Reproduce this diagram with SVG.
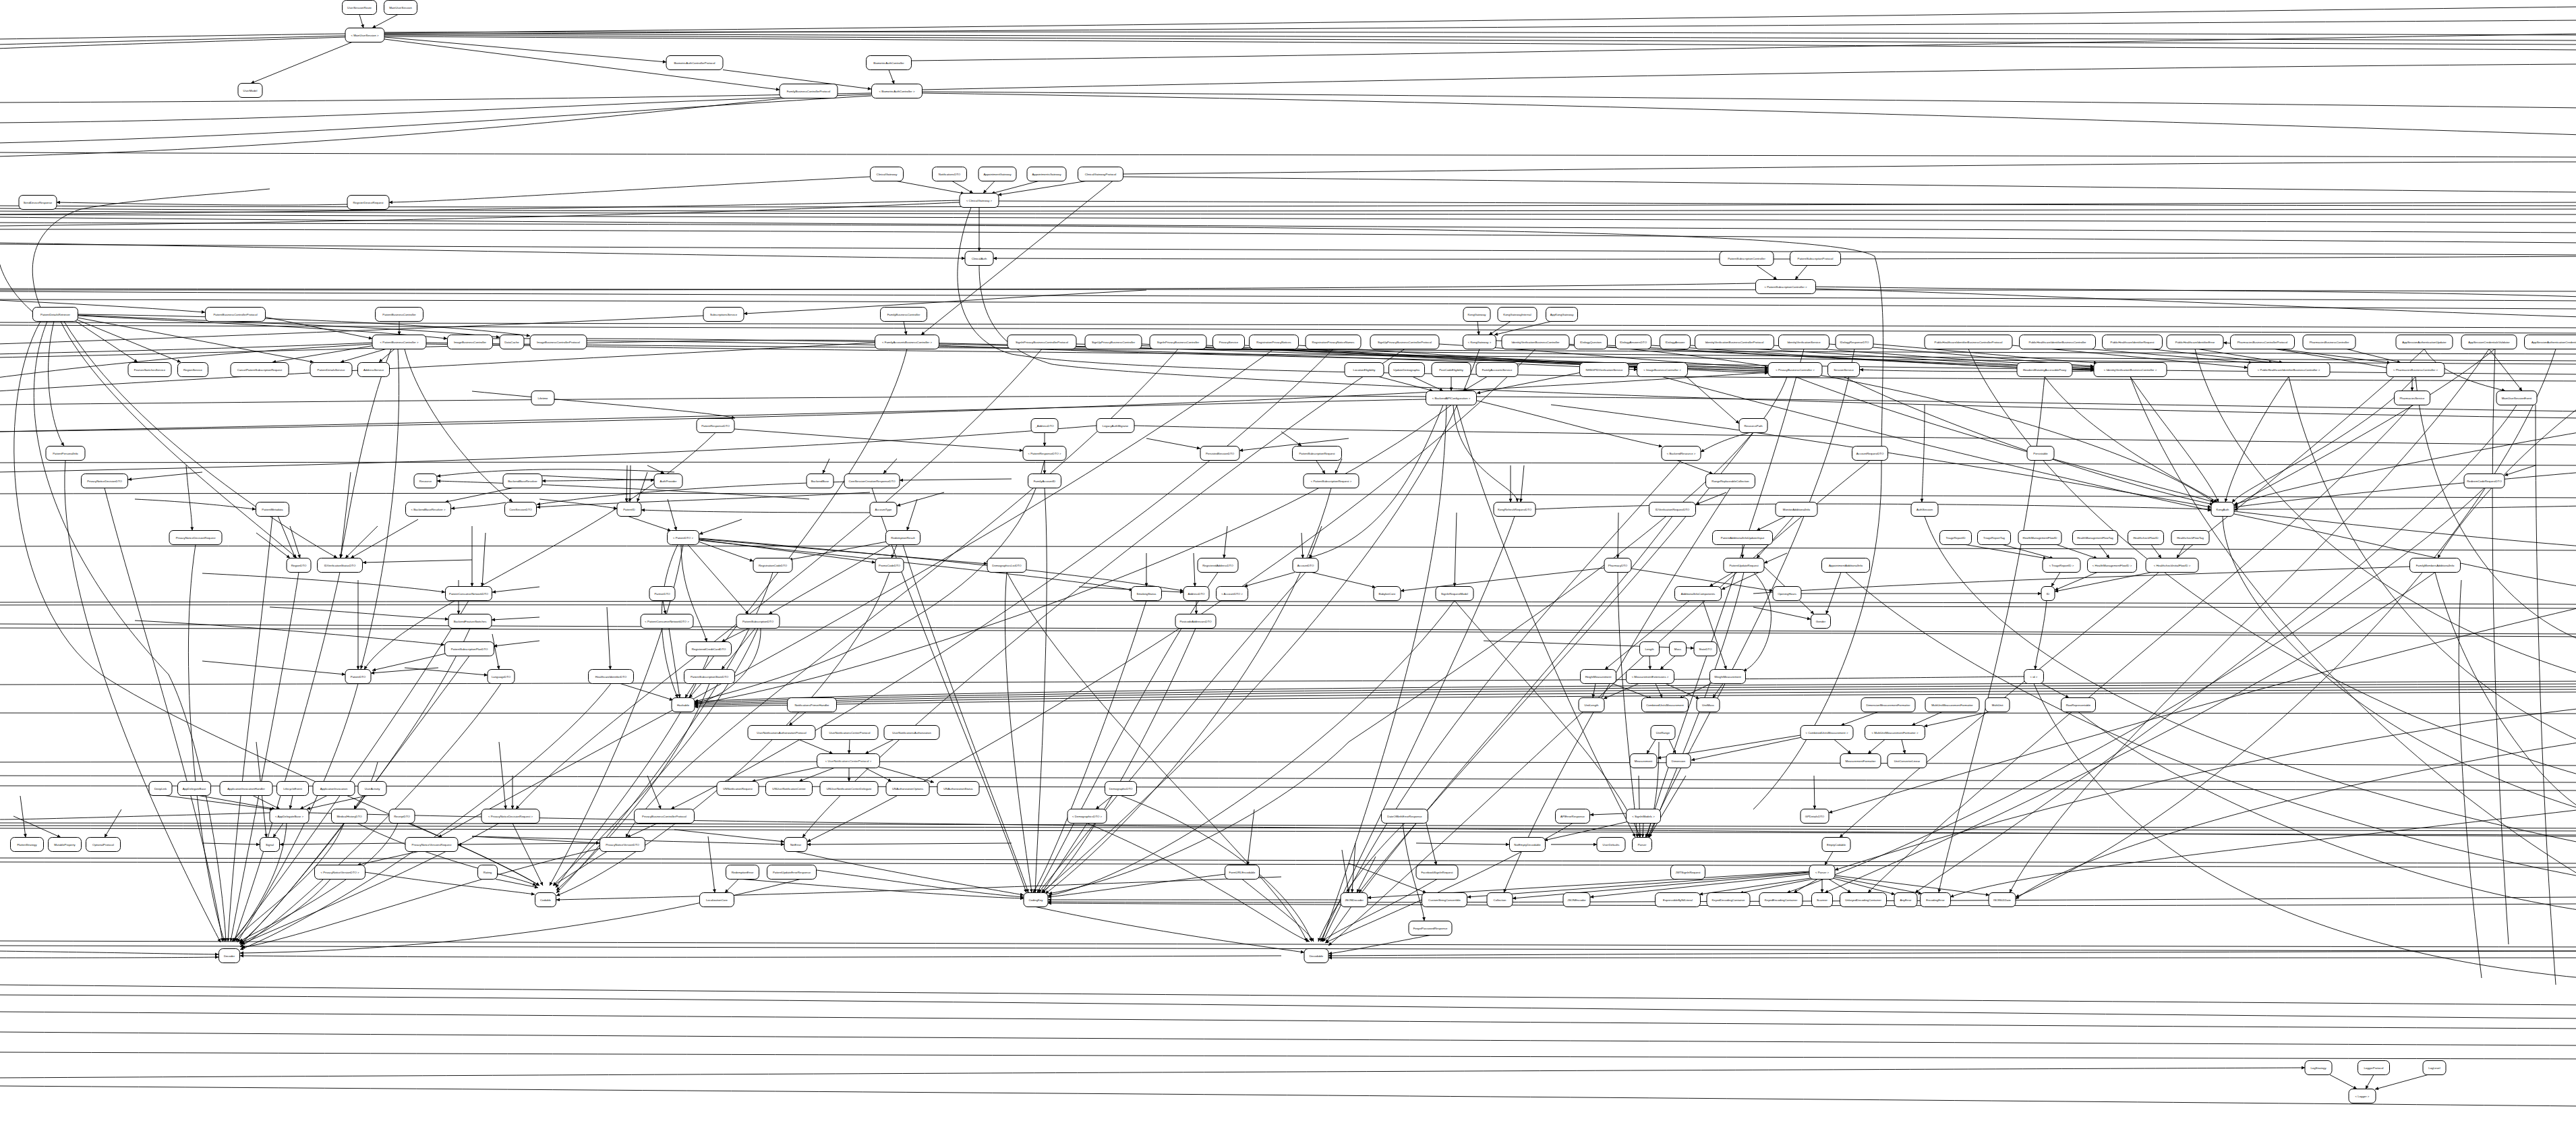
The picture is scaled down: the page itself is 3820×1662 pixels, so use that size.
<svg xmlns="http://www.w3.org/2000/svg" width="3820" height="1662" viewBox="0 0 3820 1662">
<style>
.n rect{fill:#fff;stroke:#000;stroke-width:1}
.n text{font-family:"Liberation Sans",Arial,sans-serif;font-size:4.3px;text-anchor:middle;dominant-baseline:central;fill:#000}
.e path{fill:none;stroke:#000;stroke-width:0.9;marker-end:url(#a)}
.e path.b{marker-end:none}
</style>
<defs><marker id="a" viewBox="0 0 10 10" refX="10" refY="5" markerWidth="7" markerHeight="5" markerUnits="userSpaceOnUse" orient="auto"><path d="M0,0L10,5L0,10z"/></marker></defs>
<rect width="3820" height="1662" fill="#fff"/>
<g id="connectors" class="e">
<path d="M533,21.5L539,41.5"/>
<path d="M590,21.5L552,41.5"/>
<path d="M570,55L988,92"/>
<path d="M570,58L1156,133"/>
<path d="M522,62.5L372,123.5"/>
<path d="M1072,103.5L1292,132"/>
<path d="M1318,103.5L1326,124.5"/>
<path class="b" d="M512,50C350,52 150,56 -5,58"/>
<path class="b" d="M512,53C350,57 150,62 -5,66"/>
<path class="b" d="M512,55C300,62 100,68 -5,72"/>
<path class="b" d="M570,48C1200,46 2600,48 3830,52"/>
<path class="b" d="M570,50C1300,52 2600,56 3830,60"/>
<path class="b" d="M570,52C1400,56 2700,62 3830,66"/>
<path class="b" d="M570,54C1500,60 2800,68 3830,74"/>
<path class="b" d="M570,49C1500,40 3000,20 3830,10"/>
<path class="b" d="M570,51C1600,45 3000,35 3830,30"/>
<path class="b" d="M1351,90C2200,80 3200,60 3830,50"/>
<path class="b" d="M1292,138C900,146 500,150 -5,152"/>
<path class="b" d="M1292,140C900,152 500,178 -5,182"/>
<path class="b" d="M1292,142C900,165 500,200 -5,212"/>
<path class="b" d="M1242,138C1000,160 600,215 -5,232"/>
<path class="b" d="M1367,133C2000,120 3000,100 3830,95"/>
<path class="b" d="M1367,136C2000,140 3000,150 3830,160"/>
<path class="b" d="M1367,138C2200,150 3200,180 3830,200"/>
<path class="b" d="M-5,226C900,230 2500,229 3830,233"/>
<path class="b" d="M1665,258C2500,250 3300,240 3830,240"/>
<path class="b" d="M1665,262C2500,270 3300,280 3830,285"/>
<path class="b" d="M1481,298C2200,300 3200,305 3830,305"/>
<path d="M1330,268.5L1430,287"/>
<path d="M1412,268.5L1443,286.5"/>
<path d="M1475,268.5L1458,286.5"/>
<path d="M1540,268.5L1470,287"/>
<path d="M1610,268.5L1480,289"/>
<path d="M1290,262C900,282 700,297 577,300"/>
<path d="M515,303C400,306 200,302 84,300"/>
<path class="b" d="M-5,305C1000,310 2500,304 3830,300"/>
<path class="b" d="M-5,309C1000,316 2500,312 3830,310"/>
<path class="b" d="M-5,313C1200,318 2600,318 3830,318"/>
<path class="b" d="M-5,318C1200,322 2600,326 3830,330"/>
<path class="b" d="M-5,322C1000,332 2500,338 3830,345"/>
<path class="b" d="M-5,340C1000,340 2600,350 3830,360"/>
<path class="b" d="M-5,362C1000,368 2600,372 3830,378"/>
<path d="M1452,307.5L1452,372.5"/>
<path class="b" d="M1423,297C1300,300 900,310 -5,318"/>
<path class="b" d="M1423,300C1300,305 900,325 -5,335"/>
<path d="M-5,360C600,370 1100,380 1431,383"/>
<path d="M3830,380C3000,385 2000,385 1473,383"/>
<path class="b" d="M1452,393.5C1452,480 1490,520 1560,540C1700,560 2500,600 3830,620"/>
<path class="b" d="M1440,307.5C1405,400 1410,500 1500,525C1700,560 2600,560 3830,565"/>
<path d="M1650,268.5L1366,496.5"/>
<path class="b" d="M48,462C0,420 -5,380 -5,360"/>
<path class="b" d="M60,456C30,380 60,330 120,310C200,295 300,290 400,280"/>
<path class="b" d="M-5,428C1000,430 2600,428 3830,432"/>
<path class="b" d="M-5,432C1000,438 2600,440 3830,446"/>
<path class="b" d="M-5,444C1200,446 2600,452 3830,458"/>
<path class="b" d="M-5,478C1000,480 2600,482 3830,486"/>
<path class="b" d="M-5,482C1000,486 2600,490 3830,494"/>
<path d="M592,476.5L592,496.5"/>
<path d="M393,470L552,502"/>
<path d="M-5,445C100,450 200,455 304,463"/>
<path d="M112,476L204,537"/>
<path d="M114,474L268,537"/>
<path d="M115,471L465,537"/>
<path d="M116,468C350,480 550,490 663,502"/>
<path d="M116,467C350,478 600,485 741,500"/>
<path d="M116,466C400,470 650,480 786,498"/>
<path d="M556,512L404,537"/>
<path d="M572,517.5L505,537"/>
<path d="M585,517.5L562,537"/>
<path class="b" d="M632,508C1000,515 2000,520 3830,525"/>
<path class="b" d="M632,510C1200,520 2200,530 3830,540"/>
<path class="b" d="M552,508C400,515 200,520 -5,525"/>
<path class="b" d="M552,510C300,525 150,540 -5,560"/>
<path d="M600,517.5C620,600 700,700 760,744"/>
<path d="M580,517.5C540,620 520,750 505,827"/>
<path d="M590,517.5C600,700 560,900 535,992"/>
<path d="M70,476.5C20,600 60,800 250,1000C300,1100 330,1300 335,1396"/>
<path d="M80,476.5C60,560 80,640 95,661"/>
<path d="M90,476.5C150,600 350,750 440,827"/>
<path d="M95,476.5C200,650 450,800 500,827"/>
<path d="M60,476.5C-10,600 10,900 150,1000C300,1100 700,1250 800,1313"/>
<path d="M1700,430C1500,440 1300,455 1103,465"/>
<path class="b" d="M1043,468C800,480 300,500 -5,510"/>
<path d="M1340,476.5L1344,496.5"/>
<path class="b" d="M1297,505C1000,500 500,520 -5,530"/>
<path class="b" d="M1297,508C900,530 300,560 -5,580"/>
<path class="b" d="M1392,510C1800,520 2600,530 3830,535"/>
<path class="b" d="M1392,512C1800,530 2600,545 3830,555"/>
<path d="M1596,510C2000,520 2400,540 2622,546"/>
<path d="M1693,510C2000,525 2400,540 2622,548"/>
<path d="M1789,512C2100,530 2400,545 2622,550"/>
<path d="M1846,512C2200,535 2500,545 2622,551"/>
<path d="M1926,512C2200,530 2500,550 2622,553"/>
<path d="M2134,510C2300,520 2500,540 2622,545"/>
<path d="M2327,512C2600,525 2900,540 3105,546"/>
<path d="M2630,512C2800,525 3000,540 3105,544"/>
<path d="M2712,510C2850,520 3000,535 3105,543"/>
<path d="M2384,512C2700,530 2950,545 3105,548"/>
<path d="M2449,512C2720,530 2950,545 3105,549"/>
<path d="M2507,512C2750,525 2950,540 3105,547"/>
<path d="M2778,510C2900,520 3050,535 3110,538"/>
<path d="M2191,476.5L2193,496.5"/>
<path d="M2240,476.5L2208,496.5"/>
<path d="M2300,476.5L2216,496.5"/>
<path d="M2045,558.5L2125,579.5"/>
<path d="M2095,558.5L2140,579.5"/>
<path d="M2152,558.5L2152,579.5"/>
<path d="M2205,558.5L2170,579.5"/>
<path d="M2345,552L2190,583"/>
<path d="M731,502C1200,500 2000,520 2428,545"/>
<path d="M870,505C1400,510 2100,530 2428,548"/>
<path d="M2984,512L3333,545"/>
<path d="M3100,517.5L3340,538"/>
<path d="M3190,517.5L3370,537.5"/>
<path d="M3260,517.5L3385,537.5"/>
<path d="M3380,517.5L3545,538"/>
<path d="M3480,517.5L3560,537.5"/>
<path d="M3577,558.5L3577,579.5"/>
<path d="M3595,517.5C3620,560 3700,575 3715,579.5"/>
<path d="M3691,517.5L3740,579.5"/>
<path d="M3539,545C3450,530 3350,512 3297,508"/>
<path d="M3105,550C2950,552 2800,550 2758,548"/>
<path class="b" d="M2622,552C2200,580 1500,620 -5,640"/>
<path d="M2650,558.5C2600,700 2300,900 2000,1100C1900,1200 1700,1300 1555,1325"/>
<path d="M2605,393.5L2635,414.5"/>
<path d="M2680,393.5L2662,414.5"/>
<path class="b" d="M2603,420C2000,430 1000,430 -5,430"/>
<path class="b" d="M2692,425C3000,430 3500,430 3830,440"/>
<path class="b" d="M2692,428C3100,440 3500,460 3830,470"/>
<path class="b" d="M-5,330C1500,335 2700,330 2780,380C2800,450 2790,550 2790,700C2790,900 2700,1100 2600,1200"/>
<path class="b" d="M2114,588C1700,585 1000,590 -5,600"/>
<path class="b" d="M2114,592C1700,600 1000,620 -5,640"/>
<path class="b" d="M2190,588C2600,590 3200,600 3830,610"/>
<path d="M2140,600.5C2100,700 2050,800 1940,827"/>
<path d="M2155,600.5C2160,700 2250,720 2250,744"/>
<path d="M2190,594C2300,620 2400,650 2465,662"/>
<path d="M2145,600.5C2140,800 2100,1000 1960,1396"/>
<path d="M2160,600.5C2200,750 2300,1000 2425,1241"/>
<path d="M2600,640C2560,650 2540,660 2522,670"/>
<path d="M2500,558L2579,628"/>
<path d="M1700,650L1780,665"/>
<path d="M2000,650L1838,668"/>
<path d="M1900,640L1930,661"/>
<path d="M1549,641.5L1549,661.5"/>
<path d="M1089,636L1517,668"/>
<path d="M700,580C900,600 1050,610 1090,620"/>
<path class="b" d="M1626,631C1400,650 1000,680 -5,700"/>
<path class="b" d="M1682,631C2000,640 3000,650 3830,660"/>
<path class="b" d="M-5,686C1200,684 2600,686 3830,690"/>
<path class="b" d="M-5,732C1200,730 2600,734 3830,738"/>
<path class="b" d="M-5,810C1200,808 2600,812 3830,816"/>
<path d="M1000,700C800,690 700,700 648,706"/>
<path d="M1200,740C900,720 700,715 648,713"/>
<path d="M1000,710C900,712 850,713 804,713"/>
<path d="M760,723.5L660,744.5"/>
<path d="M750,745C720,750 690,752 669,754"/>
<path d="M1290,730C1100,740 900,745 796,752"/>
<path d="M1300,713C1000,720 850,740 796,748"/>
<path d="M200,740C300,745 350,752 379,755"/>
<path d="M800,705C900,710 950,712 970,712"/>
<path d="M960,690L985,702"/>
<path d="M1230,680L1220,702"/>
<path d="M1500,710L1334,712"/>
<path d="M1330,680L1310,702"/>
<path d="M1549,680L1549,702.5"/>
<path d="M930,690L929,744"/>
<path d="M935,690L934,744"/>
<path d="M800,740C850,745 890,750 915,754"/>
<path d="M960,700L945,744"/>
<path d="M1300,760C1100,760 1000,758 951,756"/>
<path d="M1400,730L1330,750"/>
<path d="M930,765L995,787"/>
<path d="M990,740L1003,786.5"/>
<path d="M1100,770L1037,792"/>
<path d="M1360,740L1345,786.5"/>
<path d="M1036,803L1117,832"/>
<path d="M1037,800L1298,834"/>
<path d="M1037,799L1464,836"/>
<path d="M1020,807.5L1110,910.5"/>
<path d="M1010,807.5C1010,880 1040,920 1048,951.5"/>
<path d="M1005,807.5C960,900 990,1000 1005,1034.5"/>
<path d="M1037,798C1300,820 1600,850 1755,876"/>
<path d="M1037,801C1300,830 1600,860 1680,875"/>
<path d="M1330,807.5L1322,827.5"/>
<path d="M1320,807.5L1140,910.5"/>
<path d="M1315,803L1170,830"/>
<path d="M983,890.5L987,910.5"/>
<path d="M1110,931.5L1070,951.5"/>
<path d="M1120,931.5L1070,992.5"/>
<path d="M1128,931.5C1130,1000 1060,1040 1030,1042"/>
<path d="M992,931.5L1008,1034.5"/>
<path d="M1040,1013.5L1022,1034.5"/>
<path d="M920,1013.5L998,1038"/>
<path d="M1774,890.5L1774,910.5"/>
<path d="M1920,848.5L1845,869.5"/>
<path d="M3830,1010C2500,1015 1500,1020 1030,1040"/>
<path d="M3830,1014C2500,1018 1500,1024 1030,1042"/>
<path d="M3830,1018C2500,1022 1600,1026 1030,1044"/>
<path d="M3830,1022C2600,1026 1600,1030 1030,1046"/>
<path d="M3830,1026C2600,1030 1700,1034 1030,1048"/>
<path d="M410,760L438,827.5"/>
<path d="M430,780L445,827.5"/>
<path d="M380,790L430,827.5"/>
<path d="M520,700L505,827.5"/>
<path d="M560,780L512,827.5"/>
<path d="M620,770L520,827.5"/>
<path d="M700,830L538,834"/>
<path d="M800,870L730,878"/>
<path d="M300,850C500,860 600,870 660,878"/>
<path d="M700,780L700,869.5"/>
<path d="M720,790L715,869.5"/>
<path d="M680,860L680,910.5"/>
<path d="M800,915L729,919"/>
<path d="M400,900C500,905 600,915 665,918"/>
<path d="M200,920C400,930 600,950 659,956"/>
<path d="M800,950L732,958"/>
<path d="M531,860L531,992.5"/>
<path d="M650,990L550,998"/>
<path d="M700,960L552,994"/>
<path d="M300,980L512,1000"/>
<path d="M600,990L723,1001"/>
<path d="M730,940L740,992.5"/>
<path d="M900,900L905,992.5"/>
<path d="M300,700L190,711"/>
<path d="M276,690C280,740 284,760 285,786.5"/>
<path class="b" d="M-5,893C1200,890 2600,892 3830,896"/>
<path class="b" d="M-5,897C1200,896 2600,898 3830,902"/>
<path class="b" d="M-5,925C1200,930 2500,935 3830,940"/>
<path class="b" d="M-5,931C1200,934 2500,937 3830,944"/>
<path class="b" d="M-5,1057C1200,1058 2500,1056 3830,1058"/>
<path d="M2648,765.5L2605,786.5"/>
<path d="M2660,765.5L2605,827.5"/>
<path d="M2584,807.5L2584,827.5"/>
<path d="M2240,690L2240,744.5"/>
<path d="M2260,690L2255,744.5"/>
<path d="M2560,730L2515,748"/>
<path d="M2400,760L2399,827.5"/>
<path d="M2650,820L2616,835"/>
<path d="M1950,680L1965,702.5"/>
<path d="M1990,680L1980,702.5"/>
<path d="M2480,680L2540,702.5"/>
<path d="M1930,790L1932,827.5"/>
<path d="M1960,780L1942,827.5"/>
<path d="M1820,780L1815,827.5"/>
<path d="M1600,870L1755,878"/>
<path d="M1770,820L1772,869.5"/>
<path d="M1700,820L1700,869.5"/>
<path d="M1945,848.5L2040,871"/>
<path d="M2379,842L2077,876"/>
<path d="M2160,760L2157,869.5"/>
<path d="M2419,843L2629,876"/>
<path d="M2600,900L2685,918"/>
<path d="M2616,840L2690,910.5"/>
<path d="M2730,848.5L2708,910.5"/>
<path d="M2200,950L2512,961"/>
<path d="M2505,890.5L2380,992.5"/>
<path d="M2525,890.5L2560,992.5"/>
<path d="M2616,845L2553,874"/>
<path d="M2570,848.5L2535,869.5"/>
<path d="M2600,848C2650,900 2620,980 2585,995"/>
<path d="M2446,972.5L2447,992.5"/>
<path d="M2484,972.5L2462,992.5"/>
<path d="M2366,1013.5L2362,1034.5"/>
<path d="M2430,1013.5L2378,1036"/>
<path d="M2455,1013.5L2465,1034.5"/>
<path d="M2470,1013.5L2520,1036"/>
<path d="M2555,1013.5L2540,1034.5"/>
<path d="M2540,1012L2490,1036"/>
<path d="M2390,1013L2450,1036"/>
<path d="M2915,807.5L3035,828"/>
<path d="M2970,807.5L3045,828"/>
<path d="M3050,807.5L3110,828"/>
<path d="M3113,807.5L3128,827.5"/>
<path d="M3190,807.5L3205,827.5"/>
<path d="M3240,807.5L3228,827.5"/>
<path d="M3055,848.5L3042,869.5"/>
<path d="M3110,848.5L3047,875"/>
<path d="M3190,848.5L3047,877"/>
<path d="M3035,890.5C3030,940 3020,970 3018,992.5"/>
<path d="M3028,1013.5L3068,1034.5"/>
<path d="M2671,880L3027,880"/>
<path class="b" d="M3001,1003C2800,1005 2500,1010 -5,1015"/>
<path d="M2219,505C2700,520 3150,650 3283,744.5"/>
<path d="M2300,600C2700,650 3100,720 3279,752"/>
<path d="M2277,755C2600,740 3100,750 3279,755"/>
<path d="M3159,558.5C3200,620 3270,700 3290,744.5"/>
<path d="M3394,558.5C3350,620 3310,700 3300,744.5"/>
<path d="M3582,558.5C3500,650 3330,720 3310,745"/>
<path d="M2662,558.5C2900,650 3200,720 3285,745"/>
<path d="M2734,558.5C2900,640 3150,720 3282,748"/>
<path d="M3830,700C3600,720 3400,740 3313,752"/>
<path d="M3830,750C3600,755 3400,755 3313,755"/>
<path d="M3830,640C3600,680 3400,720 3313,748"/>
<path d="M2465,558.5C2800,650 3150,730 3279,757"/>
<path d="M3032,558.5C3100,650 3250,720 3288,744.5"/>
<path d="M3700,517C3600,600 3400,700 3313,750"/>
<path d="M2854,600C2854,680 2850,730 2850,744.5"/>
<path d="M3760,690L3714,705"/>
<path class="b" d="M3573,840C3300,850 2900,860 2600,880"/>
<path class="b" d="M3313,758C3500,780 3700,800 3830,810"/>
<path class="b" d="M3313,762C3500,800 3700,850 3830,870"/>
<path class="b" d="M3159,558.5C3250,800 3500,1100 3830,1300"/>
<path class="b" d="M3394,558.5C3450,800 3600,1000 3830,1100"/>
<path class="b" d="M3582,558.5C3600,750 3700,900 3830,950"/>
<path d="M3032,558.5C3000,900 2900,1200 2875,1323.5"/>
<path class="b" d="M2919,517.5C3000,700 3300,1000 3830,1150"/>
<path class="b" d="M3255,517.5C3300,700 3500,900 3830,1000"/>
<path d="M3595,517.5C3400,700 3000,1000 2728,1241.5"/>
<path d="M3691,517.5C3500,800 3100,1100 2980,1323.5"/>
<path d="M3790,517.5C3700,800 3300,1200 2989,1330"/>
<path d="M3732,600.5C3600,800 3100,1150 2840,1323.5"/>
<path d="M3577,600.5C3400,800 3000,1100 2770,1323.5"/>
<path d="M3611,848.5C3400,1000 3000,1200 2706,1323.5"/>
<path d="M3684,723.5C3500,900 3000,1200 2650,1323.5"/>
<path d="M3830,900C3400,1000 2900,1150 2712,1205"/>
<path d="M3830,1050C3400,1100 3000,1200 2721,1290"/>
<path d="M3830,1100C3500,1150 3100,1250 2989,1333"/>
<path d="M3830,1200C3400,1250 3000,1290 2892,1330"/>
<path class="b" d="M2854,765.5C2900,900 3100,1100 3830,1250"/>
<path class="b" d="M3296,765.5C3300,900 3500,1100 3830,1200"/>
<path class="b" d="M3082,1055.5C3200,1150 3500,1300 3830,1350"/>
<path class="b" d="M3016,1013.5C3100,1200 3300,1400 3830,1450"/>
<path class="b" d="M2737,848.5C2900,1000 3300,1200 3830,1300"/>
<path class="b" d="M3611,848.5C3650,1000 3750,1150 3830,1200"/>
<path d="M3830,600C3700,700 3630,800 3615,827.5"/>
<path class="b" d="M3700,517.5C3690,800 3700,1100 3720,1400"/>
<path class="b" d="M3760,600C3760,900 3770,1200 3790,1460"/>
<path class="b" d="M3650,860C3640,1000 3650,1200 3680,1450"/>
<path d="M1345,517.5C1300,700 1100,900 1016,1034.5"/>
<path d="M1549,682.5C1500,900 1200,1000 1030,1040"/>
<path d="M1061,641.5C900,800 600,900 540,992.5"/>
<path d="M2152,600.5C1900,800 1300,1000 1030,1044"/>
<path d="M2083,517.5C1800,700 1300,1100 1190,1241.5"/>
<path d="M2277,517.5C2000,800 1500,1100 1197,1248"/>
<path d="M1747,517.5C1500,800 1000,1100 928,1241.5"/>
<path d="M1545,517.5C1300,800 900,1050 765,1199.5"/>
<path d="M1889,517.5C1500,800 900,1100 650,1241.5"/>
<path d="M1977,517.5C1700,800 1200,1100 995,1199.5"/>
<path d="M2194,517.5C2100,800 1800,1100 1545,1323.5"/>
<path d="M2493,682.5C2300,900 2100,1100 1962,1396"/>
<path d="M2246,765.5C2200,900 2050,1200 1958,1396"/>
<path d="M2480,765.5C2300,1000 2100,1200 1966,1398"/>
<path d="M2773,682.5C2500,900 2200,1200 1970,1402"/>
<path d="M2600,641.5C2400,900 2150,1150 2015,1323.5"/>
<path d="M2566,723.5C2450,900 2300,1150 2230,1323.5"/>
<path d="M2750,517.5C2700,800 2500,1100 2444,1241.5"/>
<path d="M2675,517.5C2600,800 2480,1100 2442,1241.5"/>
<path d="M2586,848.5C2550,1000 2480,1150 2446,1241.5"/>
<path d="M2399,848.5C2400,1000 2420,1150 2428,1241.5"/>
<path d="M2157,890.5C2250,1000 2400,1150 2432,1241.5"/>
<path d="M2785,1055.5L2730,1075.5"/>
<path d="M2880,1055.5L2835,1075.5"/>
<path d="M2950,1055.5L2853,1077"/>
<path d="M2455,1096.5L2442,1117.5"/>
<path d="M2475,1096.5L2485,1117.5"/>
<path d="M2720,1096.5L2745,1117.5"/>
<path d="M2795,1096.5L2770,1117.5"/>
<path d="M2820,1096.5L2825,1117.5"/>
<path d="M2670,1090L2458,1124"/>
<path d="M2672,1093L2508,1127"/>
<path d="M245,1179.5L405,1200"/>
<path d="M295,1179.5L408,1199.5"/>
<path d="M375,1179.5L415,1199.5"/>
<path d="M434,1179.5L430,1199.5"/>
<path d="M485,1179.5L445,1199.5"/>
<path d="M545,1179.5L455,1199.5"/>
<path d="M420,1220.5L405,1241.5"/>
<path d="M425,1220.5C420,1300 360,1380 345,1396"/>
<path class="b" d="M458,1205C1000,1220 2000,1230 3830,1240"/>
<path class="b" d="M400,1205C200,1210 50,1215 -5,1215"/>
<path d="M510,1220.5C480,1300 360,1370 350,1396"/>
<path d="M590,1220.5C560,1300 380,1380 355,1396"/>
<path d="M605,1220.5C700,1260 780,1300 800,1313"/>
<path d="M530,1220.5C650,1280 770,1300 795,1313"/>
<path d="M760,1220.5L805,1313"/>
<path d="M740,1220.5C600,1300 400,1380 358,1400"/>
<path d="M975,1220.5L930,1241.5"/>
<path d="M620,1262.5L530,1282.5"/>
<path d="M541,1293C650,1310 750,1320 793,1326"/>
<path d="M490,1303.5C450,1350 380,1390 355,1398"/>
<path d="M900,1262.5L820,1313"/>
<path d="M890,1258C700,1300 450,1390 358,1405"/>
<path d="M735,1303.5L798,1316"/>
<path d="M300,1250L385,1252"/>
<path d="M600,1250L415,1252"/>
<path d="M380,1100L395,1241.5"/>
<path d="M900,1250L679,1252"/>
<path d="M700,1240L889,1250"/>
<path d="M30,1180L38,1241.5"/>
<path d="M20,1210L90,1241.5"/>
<path d="M180,1200L155,1241.5"/>
<path d="M740,1100L750,1199.5"/>
<path d="M760,1150L760,1199.5"/>
<path d="M960,1150L980,1199.5"/>
<path d="M560,1130C550,1170 530,1190 525,1199.5"/>
<path d="M155,723.5C200,900 300,1200 330,1396"/>
<path d="M97,682.5C80,900 250,1250 327,1397"/>
<path d="M404,765.5C380,1000 350,1200 338,1396"/>
<path d="M290,807.5C260,1000 300,1300 333,1396"/>
<path d="M443,848.5C420,1000 360,1300 342,1396"/>
<path d="M504,848.5C460,1050 380,1300 347,1396"/>
<path d="M531,1013.5C480,1200 380,1350 352,1397"/>
<path d="M696,972.5C600,1100 420,1350 355,1399"/>
<path d="M697,931.5C620,1100 420,1340 356,1401"/>
<path d="M743,1013.5C650,1150 430,1360 356,1404"/>
<path d="M906,1013.5C800,1150 500,1350 356,1408"/>
<path d="M695,890.5C600,1050 400,1330 344,1396"/>
<path d="M-5,1410C150,1412 250,1414 324,1415"/>
<path d="M-5,1420C150,1420 250,1420 324,1419"/>
<path d="M1200,1300C900,1380 600,1410 356,1413"/>
<path d="M1900,1417C1200,1420 700,1420 356,1417"/>
<path d="M1013,807.5C980,1000 850,1250 815,1313"/>
<path d="M1124,931.5C1050,1100 880,1250 820,1313"/>
<path d="M1051,972.5C1000,1100 870,1250 824,1316"/>
<path d="M1052,1013.5C1000,1150 880,1270 825,1320"/>
<path d="M1146,848.5C1100,1000 900,1250 825,1324"/>
<path d="M1319,848.5C1250,1050 950,1280 825,1328"/>
<path d="M1900,1300C1400,1320 1000,1330 825,1334"/>
<path d="M1612,1220.5L1545,1323.5"/>
<path d="M1493,848.5C1480,1000 1520,1250 1530,1323.5"/>
<path d="M1549,723.5C1560,900 1540,1200 1535,1323.5"/>
<path d="M1101,1303.5C1300,1320 1450,1330 1518,1332"/>
<path d="M1211,1290C1350,1310 1450,1325 1518,1330"/>
<path d="M1180,1262.5C1300,1290 1450,1315 1518,1327"/>
<path d="M1842,1293C1700,1310 1600,1325 1554,1330"/>
<path d="M1988,1334C1800,1334 1650,1334 1554,1334"/>
<path d="M1339,807.5C1400,1000 1500,1250 1525,1323.5"/>
<path d="M1293,723.5C1350,900 1480,1200 1522,1323.5"/>
<path d="M1936,848.5C1800,1000 1600,1250 1540,1323.5"/>
<path d="M1806,848.5C1700,1000 1580,1250 1538,1323.5"/>
<path d="M1773,931.5C1700,1100 1600,1280 1545,1324"/>
<path d="M1700,890.5C1650,1050 1560,1280 1532,1323.5"/>
<path d="M1974,723.5C1900,1000 1650,1250 1550,1325"/>
<path d="M2157,890.5C2000,1100 1700,1300 1554,1328"/>
<path d="M3830,1330C3000,1335 2000,1340 1554,1337"/>
<path d="M3830,1340C3000,1345 2000,1342 1554,1339"/>
<path d="M1612,1220.5C1800,1300 1900,1380 1942,1396"/>
<path d="M1662,1179.5C1850,1250 1930,1350 1945,1396"/>
<path d="M2083,1220.5C2000,1300 1960,1380 1955,1396"/>
<path d="M1842,1303.5C1900,1350 1940,1380 1948,1396"/>
<path d="M2131,1303.5C2050,1350 1980,1380 1960,1396"/>
<path d="M2121,1386.5C2050,1400 2000,1410 1970,1414"/>
<path d="M2332,1220.5C2200,1300 2000,1380 1965,1398"/>
<path d="M1493,848.5C1600,1050 1900,1300 1938,1396"/>
<path d="M1536,1344.5C1700,1380 1850,1400 1934,1412"/>
<path d="M3830,1410C3000,1412 2300,1415 1970,1417"/>
<path d="M3830,1420C3000,1420 2300,1420 1970,1420"/>
<path d="M1990,1260L2000,1323.5"/>
<path d="M2010,1250L2005,1323.5"/>
<path d="M2040,1270L2012,1323.5"/>
<path d="M1860,1200L1850,1282.5"/>
<path d="M700,1240C900,1245 1100,1250 1163,1252"/>
<path d="M1000,1230L1163,1248"/>
<path d="M1500,1250L1197,1252"/>
<path d="M1095,1303.5L1075,1323.5"/>
<path d="M1050,1240L1060,1323.5"/>
<path d="M1185,1096.5L1235,1117.5"/>
<path d="M1260,1096.5L1259,1117.5"/>
<path d="M1325,1096.5L1283,1117.5"/>
<path d="M1220,1136L1115,1158.5"/>
<path d="M1237,1138.5L1185,1158.5"/>
<path d="M1259,1138.5L1259,1158.5"/>
<path d="M1283,1138.5L1322,1158.5"/>
<path d="M1300,1136L1385,1160"/>
<path d="M1195,1055.5L1170,1075.5"/>
<path d="M1650,1179.5L1625,1199.5"/>
<path d="M2080,1220.5C2090,1300 2110,1340 2112,1365"/>
<path d="M2110,1200L2130,1282.5"/>
<path d="M2000,1280L2115,1323.5"/>
<path d="M2100,1250L2238,1252"/>
<path d="M2300,1252L2368,1252"/>
<path d="M2430,1150L2432,1241.5"/>
<path d="M2460,1100C2460,1200 2445,1230 2440,1241.5"/>
<path d="M2500,1150L2445,1241.5"/>
<path d="M2411,1206L2358,1208"/>
<path d="M2437,1220.5L2436,1241.5"/>
<path d="M2415,1218L2290,1246"/>
<path d="M2690,1150L2691,1199.5"/>
<path d="M2718,1262.5L2706,1282.5"/>
<path d="M2685,1302L2520,1326"/>
<path d="M2690,1303L2580,1324"/>
<path d="M2695,1303.5L2660,1323.5"/>
<path d="M2702,1303.5L2702,1323.5"/>
<path d="M2712,1303.5L2745,1323.5"/>
<path d="M2718,1302L2810,1326"/>
<path d="M2720,1300L2850,1325"/>
<path d="M2721,1298L2950,1327"/>
<path d="M2683,1296L2358,1330"/>
<path d="M2683,1294L2243,1332"/>
<path d="M2683,1293L2176,1330"/>
<path d="M2683,1292L2028,1331"/>
<path d="M3455,1593.5L3495,1614.5"/>
<path d="M3520,1593.5L3508,1614.5"/>
<path d="M3600,1593.5L3522,1615"/>
<path d="M-5,1598C1500,1590 3000,1585 3418,1583"/>
<path class="b" d="M-5,1130C1500,1128 2500,1130 3830,1135"/>
<path class="b" d="M-5,1150C1500,1152 2500,1156 3830,1160"/>
<path class="b" d="M-5,1165C1500,1166 2500,1168 3830,1172"/>
<path class="b" d="M-5,1220C1500,1222 2500,1225 3830,1228"/>
<path class="b" d="M-5,1224C1500,1226 2500,1229 3830,1232"/>
<path class="b" d="M-5,1228C1500,1231 2500,1234 3830,1238"/>
<path class="b" d="M-5,1272C1500,1274 2500,1277 3830,1280"/>
<path class="b" d="M-5,1278C1500,1280 2500,1283 3830,1286"/>
<path class="b" d="M-5,1395C1200,1398 2500,1402 3830,1404"/>
<path class="b" d="M-5,1402C1200,1405 2500,1408 3830,1410"/>
<path class="b" d="M-5,1460C1000,1470 2500,1480 3830,1490"/>
<path class="b" d="M-5,1475C1200,1480 2600,1500 3830,1510"/>
<path class="b" d="M-5,1500C1500,1510 2800,1520 3830,1525"/>
<path class="b" d="M-5,1530C1500,1540 2800,1545 3830,1550"/>
<path class="b" d="M-5,1560C1500,1565 2800,1568 3830,1570"/>
<path class="b" d="M-5,1610C1500,1620 2800,1630 3830,1640"/>
</g>
<g id="nodes" class="n">
<g id="UserSessionRoute"><rect x="507.5" y="0.5" width="51" height="21" rx="6"/><text x="533" y="11">UserSessionRoute</text></g>
<g id="MainUserSession"><rect x="569.5" y="0.5" width="49" height="21" rx="6"/><text x="594" y="11">MainUserSession</text></g>
<g id="MainUserSession_p"><rect x="512" y="41.5" width="58" height="21" rx="6"/><text x="541" y="52">&lt; MainUserSession &gt;</text></g>
<g id="UserModel"><rect x="353" y="123.5" width="36" height="21" rx="6"/><text x="371" y="134">UserModel</text></g>
<g id="BiometricAuthControllerProtocol"><rect x="988" y="82.5" width="84" height="21" rx="6"/><text x="1030" y="93">BiometricAuthControllerProtocol</text></g>
<g id="BiometricAuthController"><rect x="1284.5" y="82.5" width="67" height="21" rx="6"/><text x="1318" y="93">BiometricAuthController</text></g>
<g id="FamilyBusinessControllerProtocol"><rect x="1156" y="124.5" width="86" height="21" rx="6"/><text x="1199" y="135">FamilyBusinessControllerProtocol</text></g>
<g id="BiometricAuthController_p"><rect x="1292.5" y="124.5" width="75" height="21" rx="6"/><text x="1330" y="135">&lt; BiometricAuthController &gt;</text></g>
<g id="ClinicalGateway"><rect x="1290.5" y="247.5" width="49" height="21" rx="6"/><text x="1315" y="258">ClinicalGateway</text></g>
<g id="NotificationsDTO"><rect x="1382.5" y="247.5" width="51" height="21" rx="6"/><text x="1408" y="258">NotificationsDTO</text></g>
<g id="AppointmentGateway"><rect x="1451" y="247.5" width="56" height="21" rx="6"/><text x="1479" y="258">AppointmentGateway</text></g>
<g id="AppointmentsGateway"><rect x="1523" y="247.5" width="58" height="21" rx="6"/><text x="1552" y="258">AppointmentsGateway</text></g>
<g id="ClinicalGatewayProtocol"><rect x="1598.5" y="247.5" width="67" height="21" rx="6"/><text x="1632" y="258">ClinicalGatewayProtocol</text></g>
<g id="RegisterDeviceRequest"><rect x="515" y="289.5" width="62" height="21" rx="6"/><text x="546" y="300">RegisterDeviceRequest</text></g>
<g id="SendDeviceResponse"><rect x="28" y="289.5" width="56" height="21" rx="6"/><text x="56" y="300">SendDeviceResponse</text></g>
<g id="ClinicalGateway_p"><rect x="1423" y="286.5" width="58" height="21" rx="6"/><text x="1452" y="297">&lt; ClinicalGateway &gt;</text></g>
<g id="ClinicalAuth"><rect x="1431" y="372.5" width="42" height="21" rx="6"/><text x="1452" y="383">ClinicalAuth</text></g>
<g id="PatientSubscriptionController"><rect x="2550" y="372.5" width="80" height="21" rx="6"/><text x="2590" y="383">PatientSubscriptionController</text></g>
<g id="PatientSubscriptionProtocol"><rect x="2654.5" y="372.5" width="75" height="21" rx="6"/><text x="2692" y="383">PatientSubscriptionProtocol</text></g>
<g id="PatientSubscriptionController_p"><rect x="2603.5" y="414.5" width="89" height="21" rx="6"/><text x="2648" y="425">&lt; PatientSubscriptionController &gt;</text></g>
<g id="PatientDetailsRetriever"><rect x="48.5" y="455.5" width="67" height="21" rx="6"/><text x="82" y="466">PatientDetailsRetriever</text></g>
<g id="PatientBusinessControllerProtocol"><rect x="304.5" y="455.5" width="89" height="21" rx="6"/><text x="349" y="466">PatientBusinessControllerProtocol</text></g>
<g id="PatientBusinessController"><rect x="556.5" y="455.5" width="71" height="21" rx="6"/><text x="592" y="466">PatientBusinessController</text></g>
<g id="SubscriptionsService"><rect x="1043" y="455.5" width="60" height="21" rx="6"/><text x="1073" y="466">SubscriptionsService</text></g>
<g id="FamilyBusinessController"><rect x="1305.5" y="455.5" width="69" height="21" rx="6"/><text x="1340" y="466">FamilyBusinessController</text></g>
<g id="KongGateway"><rect x="2170" y="455.5" width="40" height="21" rx="6"/><text x="2190" y="466">KongGateway</text></g>
<g id="KongGatewayInternal"><rect x="2221" y="455.5" width="58" height="21" rx="6"/><text x="2250" y="466">KongGatewayInternal</text></g>
<g id="AppKongGateway"><rect x="2292.5" y="455.5" width="47" height="21" rx="6"/><text x="2316" y="466">AppKongGateway</text></g>
<g id="PatientBusinessController_p"><rect x="552" y="496.5" width="80" height="21" rx="6"/><text x="592" y="507">&lt; PatientBusinessController &gt;</text></g>
<g id="ImageBusinessController"><rect x="663.5" y="496.5" width="67" height="21" rx="6"/><text x="697" y="507">ImageBusinessController</text></g>
<g id="DataCache"><rect x="741" y="496.5" width="36" height="21" rx="6"/><text x="759" y="507">DataCache</text></g>
<g id="ImageBusinessControllerProtocol"><rect x="786" y="496.5" width="84" height="21" rx="6"/><text x="828" y="507">ImageBusinessControllerProtocol</text></g>
<g id="FamilyAccountsBusinessController_p"><rect x="1297.5" y="496.5" width="95" height="21" rx="6"/><text x="1345" y="507">&lt; FamilyAccountsBusinessController &gt;</text></g>
<g id="SignInPrivacyBusinessControllerProtocol"><rect x="1494" y="496.5" width="102" height="21" rx="6"/><text x="1545" y="507">SignInPrivacyBusinessControllerProtocol</text></g>
<g id="SignUpPrivacyBusinessController"><rect x="1609" y="496.5" width="84" height="21" rx="6"/><text x="1651" y="507">SignUpPrivacyBusinessController</text></g>
<g id="SignInPrivacyBusinessController"><rect x="1705" y="496.5" width="84" height="21" rx="6"/><text x="1747" y="507">SignInPrivacyBusinessController</text></g>
<g id="PrivacyService"><rect x="1798.5" y="496.5" width="47" height="21" rx="6"/><text x="1822" y="507">PrivacyService</text></g>
<g id="RegistrationPrivacyNotices"><rect x="1852.5" y="496.5" width="73" height="21" rx="6"/><text x="1889" y="507">RegistrationPrivacyNotices</text></g>
<g id="RegistrationPrivacyNoticeNames"><rect x="1936" y="496.5" width="82" height="21" rx="6"/><text x="1977" y="507">RegistrationPrivacyNoticeNames</text></g>
<g id="SignUpPrivacyBusinessControllerProtocol"><rect x="2032" y="496.5" width="102" height="21" rx="6"/><text x="2083" y="507">SignUpPrivacyBusinessControllerProtocol</text></g>
<g id="KongGateway_p"><rect x="2169.5" y="496.5" width="49" height="21" rx="6"/><text x="2194" y="507">&lt; KongGateway &gt;</text></g>
<g id="IdentityVerificationBusinessController"><rect x="2227" y="496.5" width="100" height="21" rx="6"/><text x="2277" y="507">IdentityVerificationBusinessController</text></g>
<g id="IDologyQuestion"><rect x="2334.5" y="496.5" width="49" height="21" rx="6"/><text x="2359" y="507">IDologyQuestion</text></g>
<g id="IDologyAnswersDTO"><rect x="2395.5" y="496.5" width="53" height="21" rx="6"/><text x="2422" y="507">IDologyAnswersDTO</text></g>
<g id="IDologyAnswer"><rect x="2461.5" y="496.5" width="45" height="21" rx="6"/><text x="2484" y="507">IDologyAnswer</text></g>
<g id="IdentityVerificationBusinessControllerProtocol"><rect x="2513.5" y="496.5" width="117" height="21" rx="6"/><text x="2572" y="507">IdentityVerificationBusinessControllerProtocol</text></g>
<g id="IdentityVerificationService"><rect x="2637.5" y="496.5" width="75" height="21" rx="6"/><text x="2675" y="507">IdentityVerificationService</text></g>
<g id="IDologyResponseDTO"><rect x="2722" y="496.5" width="56" height="21" rx="6"/><text x="2750" y="507">IDologyResponseDTO</text></g>
<g id="PublicHealthcareIdentifierBusinessControllerProtocol"><rect x="2854" y="496.5" width="130" height="21" rx="6"/><text x="2919" y="507">PublicHealthcareIdentifierBusinessControllerProtocol</text></g>
<g id="PublicHealthcareIdentifierBusinessController"><rect x="2994.5" y="496.5" width="113" height="21" rx="6"/><text x="3051" y="507">PublicHealthcareIdentifierBusinessController</text></g>
<g id="PublicHealthcareIdentifierRequest"><rect x="3117.5" y="496.5" width="89" height="21" rx="6"/><text x="3162" y="507">PublicHealthcareIdentifierRequest</text></g>
<g id="PublicHealthcareIdentifierError"><rect x="3213" y="496.5" width="84" height="21" rx="6"/><text x="3255" y="507">PublicHealthcareIdentifierError</text></g>
<g id="PharmaciesBusinessControllerProtocol"><rect x="3307.5" y="496.5" width="95" height="21" rx="6"/><text x="3355" y="507">PharmaciesBusinessControllerProtocol</text></g>
<g id="PharmaciesBusinessController"><rect x="3415" y="496.5" width="78" height="21" rx="6"/><text x="3454" y="507">PharmaciesBusinessController</text></g>
<g id="AppSessionAuthenticationUpdater"><rect x="3553" y="496.5" width="84" height="21" rx="6"/><text x="3595" y="507">AppSessionAuthenticationUpdater</text></g>
<g id="AppSessionCredentialsValidator"><rect x="3650" y="496.5" width="82" height="21" rx="6"/><text x="3691" y="507">AppSessionCredentialsValidator</text></g>
<g id="AppSessionAuthenticationCredentials"><rect x="3743.5" y="496.5" width="93" height="21" rx="6"/><text x="3790" y="507">AppSessionAuthenticationCredentials</text></g>
<g id="FeatureSwitchesService"><rect x="190" y="537.5" width="64" height="21" rx="6"/><text x="222" y="548">FeatureSwitchesService</text></g>
<g id="RegionService"><rect x="263.5" y="537.5" width="45" height="21" rx="6"/><text x="286" y="548">RegionService</text></g>
<g id="CancelPatientSubscriptionRequest"><rect x="342" y="537.5" width="86" height="21" rx="6"/><text x="385" y="548">CancelPatientSubscriptionRequest</text></g>
<g id="PatientDetailsService"><rect x="460" y="537.5" width="62" height="21" rx="6"/><text x="491" y="548">PatientDetailsService</text></g>
<g id="AddressService"><rect x="530.5" y="537.5" width="47" height="21" rx="6"/><text x="554" y="548">AddressService</text></g>
<g id="LocationEligibility"><rect x="1994" y="537.5" width="58" height="21" rx="6"/><text x="2023" y="548">LocationEligibility</text></g>
<g id="UpdateDemographic"><rect x="2059.5" y="537.5" width="53" height="21" rx="6"/><text x="2086" y="548">UpdateDemographic</text></g>
<g id="PostCodeEligibility"><rect x="2123" y="537.5" width="58" height="21" rx="6"/><text x="2152" y="548">PostCodeEligibility</text></g>
<g id="FamilyAccountsService"><rect x="2189" y="537.5" width="62" height="21" rx="6"/><text x="2220" y="548">FamilyAccountsService</text></g>
<g id="NHSGPIDVerificationService"><rect x="2342.5" y="537.5" width="73" height="21" rx="6"/><text x="2379" y="548">NHSGPIDVerificationService</text></g>
<g id="ImageBusinessController_p"><rect x="2427.5" y="537.5" width="75" height="21" rx="6"/><text x="2465" y="548">&lt; ImageBusinessController &gt;</text></g>
<g id="PrivacyBusinessController_p"><rect x="2622" y="537.5" width="80" height="21" rx="6"/><text x="2662" y="548">&lt; PrivacyBusinessController &gt;</text></g>
<g id="SessionService"><rect x="2710.5" y="537.5" width="47" height="21" rx="6"/><text x="2734" y="548">SessionService</text></g>
<g id="HeadersMutatingAccessibleProxy"><rect x="2991" y="537.5" width="82" height="21" rx="6"/><text x="3032" y="548">HeadersMutatingAccessibleProxy</text></g>
<g id="IdentityVerificationBusinessController_p"><rect x="3105" y="537.5" width="108" height="21" rx="6"/><text x="3159" y="548">&lt; IdentityVerificationBusinessController &gt;</text></g>
<g id="PublicHealthcareIdentifierBusinessController_p"><rect x="3333" y="537.5" width="122" height="21" rx="6"/><text x="3394" y="548">&lt; PublicHealthcareIdentifierBusinessController &gt;</text></g>
<g id="PharmaciesBusinessController_p"><rect x="3539" y="537.5" width="86" height="21" rx="6"/><text x="3582" y="548">&lt; PharmaciesBusinessController &gt;</text></g>
<g id="Lifetime"><rect x="788" y="579.5" width="34" height="21" rx="6"/><text x="805" y="590">Lifetime</text></g>
<g id="BackendAPIConfiguration_p"><rect x="2114.5" y="579.5" width="75" height="21" rx="6"/><text x="2152" y="590">&lt; BackendAPIConfiguration &gt;</text></g>
<g id="PharmaciesService"><rect x="3550.5" y="579.5" width="53" height="21" rx="6"/><text x="3577" y="590">PharmaciesService</text></g>
<g id="MainUserSessionEvent"><rect x="3702" y="579.5" width="60" height="21" rx="6"/><text x="3732" y="590">MainUserSessionEvent</text></g>
<g id="PatientResponseDTO"><rect x="1033" y="620.5" width="56" height="21" rx="6"/><text x="1061" y="631">PatientResponseDTO</text></g>
<g id="_AddressDTO"><rect x="1529" y="620.5" width="40" height="21" rx="6"/><text x="1549" y="631">_AddressDTO</text></g>
<g id="LegacyAuthMigrator"><rect x="1626" y="620.5" width="56" height="21" rx="6"/><text x="1654" y="631">LegacyAuthMigrator</text></g>
<g id="ResourcePath"><rect x="2579" y="620.5" width="42" height="21" rx="6"/><text x="2600" y="631">ResourcePath</text></g>
<g id="PatientPersonalInfo"><rect x="68" y="661.5" width="58" height="21" rx="6"/><text x="97" y="672">PatientPersonalInfo</text></g>
<g id="PatientResponseDTO_p"><rect x="1517" y="661.5" width="64" height="21" rx="6"/><text x="1549" y="672">&lt; PatientResponseDTO &gt;</text></g>
<g id="PersistedSessionDTO"><rect x="1780" y="661.5" width="58" height="21" rx="6"/><text x="1809" y="672">PersistedSessionDTO</text></g>
<g id="PatientSubscriptionRequest"><rect x="1916.5" y="661.5" width="73" height="21" rx="6"/><text x="1953" y="672">PatientSubscriptionRequest</text></g>
<g id="BackendResource_p"><rect x="2464" y="661.5" width="58" height="21" rx="6"/><text x="2493" y="672">&lt; BackendResource &gt;</text></g>
<g id="AccountRequestDTO"><rect x="2746.5" y="661.5" width="53" height="21" rx="6"/><text x="2773" y="672">AccountRequestDTO</text></g>
<g id="Persistable"><rect x="3006" y="661.5" width="40" height="21" rx="6"/><text x="3026" y="672">Persistable</text></g>
<g id="PrivacyNoticeDecisionDTO"><rect x="120.5" y="702.5" width="69" height="21" rx="6"/><text x="155" y="713">PrivacyNoticeDecisionDTO</text></g>
<g id="Resource"><rect x="614" y="702.5" width="34" height="21" rx="6"/><text x="631" y="713">Resource</text></g>
<g id="BackendBaseResolver"><rect x="746" y="702.5" width="58" height="21" rx="6"/><text x="775" y="713">BackendBaseResolver</text></g>
<g id="AuthProvider"><rect x="970" y="702.5" width="42" height="21" rx="6"/><text x="991" y="713">AuthProvider</text></g>
<g id="BackendBase"><rect x="1196" y="702.5" width="40" height="21" rx="6"/><text x="1216" y="713">BackendBase</text></g>
<g id="CoreSessionCreationResponseDTO"><rect x="1252" y="702.5" width="82" height="21" rx="6"/><text x="1293" y="713">CoreSessionCreationResponseDTO</text></g>
<g id="FamilyAccountID"><rect x="1524.5" y="702.5" width="49" height="21" rx="6"/><text x="1549" y="713">FamilyAccountID</text></g>
<g id="PatientSubscriptionRequest_p"><rect x="1933" y="702.5" width="82" height="21" rx="6"/><text x="1974" y="713">&lt; PatientSubscriptionRequest &gt;</text></g>
<g id="RangeReplaceableCollection"><rect x="2529.5" y="702.5" width="73" height="21" rx="6"/><text x="2566" y="713">RangeReplaceableCollection</text></g>
<g id="RedeemCodeRequestDTO"><rect x="3654" y="702.5" width="60" height="21" rx="6"/><text x="3684" y="713">RedeemCodeRequestDTO</text></g>
<g id="PatientMetadata"><rect x="379.5" y="744.5" width="49" height="21" rx="6"/><text x="404" y="755">PatientMetadata</text></g>
<g id="BackendBaseResolver_p"><rect x="601.5" y="744.5" width="67" height="21" rx="6"/><text x="635" y="755">&lt; BackendBaseResolver &gt;</text></g>
<g id="CoreSessionDTO"><rect x="748.5" y="744.5" width="47" height="21" rx="6"/><text x="772" y="755">CoreSessionDTO</text></g>
<g id="PatientID"><rect x="915" y="744.5" width="36" height="21" rx="6"/><text x="933" y="755">PatientID</text></g>
<g id="AccountType"><rect x="1290" y="744.5" width="40" height="21" rx="6"/><text x="1310" y="755">AccountType</text></g>
<g id="KongRefreshRequestDTO"><rect x="2215" y="744.5" width="62" height="21" rx="6"/><text x="2246" y="755">KongRefreshRequestDTO</text></g>
<g id="IDVerificationRequestDTO"><rect x="2445.5" y="744.5" width="69" height="21" rx="6"/><text x="2480" y="755">IDVerificationRequestDTO</text></g>
<g id="MonitorAdditionalInfo"><rect x="2633" y="744.5" width="62" height="21" rx="6"/><text x="2664" y="755">MonitorAdditionalInfo</text></g>
<g id="AuthSession"><rect x="2834" y="744.5" width="40" height="21" rx="6"/><text x="2854" y="755">AuthSession</text></g>
<g id="KongAuth"><rect x="3279" y="744.5" width="34" height="21" rx="6"/><text x="3296" y="755">KongAuth</text></g>
<g id="PrivacyNoticeDecisionRequest"><rect x="251" y="786.5" width="78" height="21" rx="6"/><text x="290" y="797">PrivacyNoticeDecisionRequest</text></g>
<g id="PatientDTO_p"><rect x="989.5" y="786.5" width="47" height="21" rx="6"/><text x="1013" y="797">&lt; PatientDTO &gt;</text></g>
<g id="RedemptionResult"><rect x="1313.5" y="786.5" width="51" height="21" rx="6"/><text x="1339" y="797">RedemptionResult</text></g>
<g id="PatientAdditionalInfoUpdaterInput"><rect x="2539.5" y="786.5" width="89" height="21" rx="6"/><text x="2584" y="797">PatientAdditionalInfoUpdaterInput</text></g>
<g id="TriageReportID"><rect x="2876.5" y="786.5" width="47" height="21" rx="6"/><text x="2900" y="797">TriageReportID</text></g>
<g id="TriageReportTag"><rect x="2932.5" y="786.5" width="49" height="21" rx="6"/><text x="2957" y="797">TriageReportTag</text></g>
<g id="HealthManagementFlowID"><rect x="2993" y="786.5" width="64" height="21" rx="6"/><text x="3025" y="797">HealthManagementFlowID</text></g>
<g id="HealthManagementFlowTag"><rect x="3073.5" y="786.5" width="67" height="21" rx="6"/><text x="3107" y="797">HealthManagementFlowTag</text></g>
<g id="HealthcheckFlowID"><rect x="3155.5" y="786.5" width="53" height="21" rx="6"/><text x="3182" y="797">HealthcheckFlowID</text></g>
<g id="HealthcheckFlowTag"><rect x="3220" y="786.5" width="56" height="21" rx="6"/><text x="3248" y="797">HealthcheckFlowTag</text></g>
<g id="RegionDTO"><rect x="425" y="827.5" width="36" height="21" rx="6"/><text x="443" y="838">RegionDTO</text></g>
<g id="IDVerificationStatusDTO"><rect x="470.5" y="827.5" width="67" height="21" rx="6"/><text x="504" y="838">IDVerificationStatusDTO</text></g>
<g id="RegistrationCodeDTO"><rect x="1117" y="827.5" width="58" height="21" rx="6"/><text x="1146" y="838">RegistrationCodeDTO</text></g>
<g id="PromoCodeDTO"><rect x="1298" y="827.5" width="42" height="21" rx="6"/><text x="1319" y="838">PromoCodeDTO</text></g>
<g id="DemographicsListDTO"><rect x="1464" y="827.5" width="58" height="21" rx="6"/><text x="1493" y="838">DemographicsListDTO</text></g>
<g id="RegisteredAddressDTO"><rect x="1776" y="827.5" width="60" height="21" rx="6"/><text x="1806" y="838">RegisteredAddressDTO</text></g>
<g id="AccountDTO"><rect x="1917" y="827.5" width="38" height="21" rx="6"/><text x="1936" y="838">AccountDTO</text></g>
<g id="PharmacyDTO"><rect x="2379" y="827.5" width="40" height="21" rx="6"/><text x="2399" y="838">PharmacyDTO</text></g>
<g id="PatientUpdateRequest"><rect x="2556" y="827.5" width="60" height="21" rx="6"/><text x="2586" y="838">PatientUpdateRequest</text></g>
<g id="AppointmentAdditionalInfo"><rect x="2701.5" y="827.5" width="71" height="21" rx="6"/><text x="2737" y="838">AppointmentAdditionalInfo</text></g>
<g id="TriageReportID_p"><rect x="3029" y="827.5" width="56" height="21" rx="6"/><text x="3057" y="838">&lt; TriageReportID &gt;</text></g>
<g id="HealthManagementFlowID_p"><rect x="3095.5" y="827.5" width="73" height="21" rx="6"/><text x="3132" y="838">&lt; HealthManagementFlowID &gt;</text></g>
<g id="HealthcheckInitialFlowID_p"><rect x="3182" y="827.5" width="78" height="21" rx="6"/><text x="3221" y="838">&lt; HealthcheckInitialFlowID &gt;</text></g>
<g id="FamilyMembersAdditionalInfo"><rect x="3573.5" y="827.5" width="75" height="21" rx="6"/><text x="3611" y="838">FamilyMembersAdditionalInfo</text></g>
<g id="PatientConsumerNetworkDTO"><rect x="660.5" y="869.5" width="69" height="21" rx="6"/><text x="695" y="880">PatientConsumerNetworkDTO</text></g>
<g id="PartnerDTO"><rect x="963" y="869.5" width="38" height="21" rx="6"/><text x="982" y="880">PartnerDTO</text></g>
<g id="SmokingStatus"><rect x="1677.5" y="869.5" width="45" height="21" rx="6"/><text x="1700" y="880">SmokingStatus</text></g>
<g id="AddressDTO"><rect x="1755" y="869.5" width="38" height="21" rx="6"/><text x="1774" y="880">AddressDTO</text></g>
<g id="AccountDTO_p"><rect x="1803.5" y="869.5" width="47" height="21" rx="6"/><text x="1827" y="880">&lt; AccountDTO &gt;</text></g>
<g id="BabylonCore"><rect x="2037" y="869.5" width="40" height="21" rx="6"/><text x="2057" y="880">BabylonCore</text></g>
<g id="SignInRequestModel"><rect x="2129" y="869.5" width="56" height="21" rx="6"/><text x="2157" y="880">SignInRequestModel</text></g>
<g id="AdditionalInfoComponents"><rect x="2483.5" y="869.5" width="69" height="21" rx="6"/><text x="2518" y="880">AdditionalInfoComponents</text></g>
<g id="OpeningHours"><rect x="2629" y="869.5" width="42" height="21" rx="6"/><text x="2650" y="880">OpeningHours</text></g>
<g id="ID"><rect x="3027" y="869.5" width="20" height="21" rx="6"/><text x="3037" y="880">ID</text></g>
<g id="BackendFeatureSwitches"><rect x="665" y="910.5" width="64" height="21" rx="6"/><text x="697" y="921">BackendFeatureSwitches</text></g>
<g id="PatientConsumerNetworkDTO_p"><rect x="950" y="910.5" width="78" height="21" rx="6"/><text x="989" y="921">&lt; PatientConsumerNetworkDTO &gt;</text></g>
<g id="PatientSubscriptionDTO"><rect x="1092" y="910.5" width="64" height="21" rx="6"/><text x="1124" y="921">PatientSubscriptionDTO</text></g>
<g id="PostcodeAddressesDTO"><rect x="1743" y="910.5" width="60" height="21" rx="6"/><text x="1773" y="921">PostcodeAddressesDTO</text></g>
<g id="Gender"><rect x="2685.5" y="910.5" width="29" height="21" rx="6"/><text x="2700" y="921">Gender</text></g>
<g id="PatientSubscriptionPlanDTO"><rect x="659.5" y="951.5" width="73" height="21" rx="6"/><text x="696" y="962">PatientSubscriptionPlanDTO</text></g>
<g id="RegisteredCreditCardDTO"><rect x="1017.5" y="951.5" width="67" height="21" rx="6"/><text x="1051" y="962">RegisteredCreditCardDTO</text></g>
<g id="Length"><rect x="2431.5" y="951.5" width="29" height="21" rx="6"/><text x="2446" y="962">Length</text></g>
<g id="Mass"><rect x="2475.5" y="951.5" width="25" height="21" rx="6"/><text x="2488" y="962">Mass</text></g>
<g id="StateDTO"><rect x="2512" y="951.5" width="34" height="21" rx="6"/><text x="2529" y="962">StateDTO</text></g>
<g id="PatientDTO"><rect x="512" y="992.5" width="38" height="21" rx="6"/><text x="531" y="1003">PatientDTO</text></g>
<g id="LanguageDTO"><rect x="723" y="992.5" width="40" height="21" rx="6"/><text x="743" y="1003">LanguageDTO</text></g>
<g id="HealthcareIdentifierDTO"><rect x="872.5" y="992.5" width="67" height="21" rx="6"/><text x="906" y="1003">HealthcareIdentifierDTO</text></g>
<g id="PatientSubscriptionStateDTO"><rect x="1014.5" y="992.5" width="75" height="21" rx="6"/><text x="1052" y="1003">PatientSubscriptionStateDTO</text></g>
<g id="HeightMeasurement"><rect x="2343.5" y="992.5" width="53" height="21" rx="6"/><text x="2370" y="1003">HeightMeasurement</text></g>
<g id="MeasurementExtensions_p"><rect x="2411.5" y="992.5" width="71" height="21" rx="6"/><text x="2447" y="1003">&lt; MeasurementExtensions &gt;</text></g>
<g id="WeightMeasurement"><rect x="2535.5" y="992.5" width="53" height="21" rx="6"/><text x="2562" y="1003">WeightMeasurement</text></g>
<g id="id_p"><rect x="3001.5" y="992.5" width="29" height="21" rx="6"/><text x="3016" y="1003">&lt; id &gt;</text></g>
<g id="Hashable"><rect x="996" y="1034.5" width="34" height="21" rx="6"/><text x="1013" y="1045">Hashable</text></g>
<g id="NotificationsPrimerHandler"><rect x="1167.5" y="1034.5" width="73" height="21" rx="6"/><text x="1204" y="1045">NotificationsPrimerHandler</text></g>
<g id="UnitLength"><rect x="2341" y="1034.5" width="38" height="21" rx="6"/><text x="2360" y="1045">UnitLength</text></g>
<g id="CombinedUnitsMeasurement"><rect x="2434.5" y="1034.5" width="69" height="21" rx="6"/><text x="2469" y="1045">CombinedUnitsMeasurement</text></g>
<g id="UnitMass"><rect x="2516" y="1034.5" width="34" height="21" rx="6"/><text x="2533" y="1045">UnitMass</text></g>
<g id="DimensionMeasurementFormatter"><rect x="2760" y="1034.5" width="80" height="21" rx="6"/><text x="2800" y="1045">DimensionMeasurementFormatter</text></g>
<g id="MultiUnitMeasurementFormatter"><rect x="2855" y="1034.5" width="80" height="21" rx="6"/><text x="2895" y="1045">MultiUnitMeasurementFormatter</text></g>
<g id="MultiUnit"><rect x="2944" y="1034.5" width="36" height="21" rx="6"/><text x="2962" y="1045">MultiUnit</text></g>
<g id="RawRepresentable"><rect x="3056.5" y="1034.5" width="51" height="21" rx="6"/><text x="3082" y="1045">RawRepresentable</text></g>
<g id="UserNotificationsAuthorizationProtocol"><rect x="1109" y="1075.5" width="100" height="21" rx="6"/><text x="1159" y="1086">UserNotificationsAuthorizationProtocol</text></g>
<g id="UserNotificationsCenterProtocol"><rect x="1218" y="1075.5" width="84" height="21" rx="6"/><text x="1260" y="1086">UserNotificationsCenterProtocol</text></g>
<g id="UserNotificationsAuthorization"><rect x="1311" y="1075.5" width="82" height="21" rx="6"/><text x="1352" y="1086">UserNotificationsAuthorization</text></g>
<g id="UnitRange"><rect x="2448" y="1075.5" width="36" height="21" rx="6"/><text x="2466" y="1086">UnitRange</text></g>
<g id="CombinedUnitsMeasurement_p"><rect x="2670" y="1075.5" width="78" height="21" rx="6"/><text x="2709" y="1086">&lt; CombinedUnitsMeasurement &gt;</text></g>
<g id="MultiUnitMeasurementFormatter_p"><rect x="2765.5" y="1075.5" width="89" height="21" rx="6"/><text x="2810" y="1086">&lt; MultiUnitMeasurementFormatter &gt;</text></g>
<g id="UserNotificationsCenterProtocol_p"><rect x="1211.5" y="1117.5" width="93" height="21" rx="6"/><text x="1258" y="1128">&lt; UserNotificationsCenterProtocol &gt;</text></g>
<g id="Measurement"><rect x="2417" y="1117.5" width="40" height="21" rx="6"/><text x="2437" y="1128">Measurement</text></g>
<g id="Dimension"><rect x="2471" y="1117.5" width="36" height="21" rx="6"/><text x="2489" y="1128">Dimension</text></g>
<g id="MeasurementFormatter"><rect x="2729" y="1117.5" width="60" height="21" rx="6"/><text x="2759" y="1128">MeasurementFormatter</text></g>
<g id="UnitConverterLinear"><rect x="2799" y="1117.5" width="58" height="21" rx="6"/><text x="2828" y="1128">UnitConverterLinear</text></g>
<g id="DeepLink"><rect x="221" y="1158.5" width="34" height="21" rx="6"/><text x="238" y="1169">DeepLink</text></g>
<g id="AppDelegateBase"><rect x="263.5" y="1158.5" width="49" height="21" rx="6"/><text x="288" y="1169">AppDelegateBase</text></g>
<g id="ApplicationInvocationHandler"><rect x="326" y="1158.5" width="78" height="21" rx="6"/><text x="365" y="1169">ApplicationInvocationHandler</text></g>
<g id="LifecycleEvent"><rect x="410.5" y="1158.5" width="47" height="21" rx="6"/><text x="434" y="1169">LifecycleEvent</text></g>
<g id="ApplicationInvocation"><rect x="464" y="1158.5" width="62" height="21" rx="6"/><text x="495" y="1169">ApplicationInvocation</text></g>
<g id="UserActivity"><rect x="531" y="1158.5" width="42" height="21" rx="6"/><text x="552" y="1169">UserActivity</text></g>
<g id="UNNotificationRequest"><rect x="1063" y="1158.5" width="62" height="21" rx="6"/><text x="1094" y="1169">UNNotificationRequest</text></g>
<g id="UNUserNotificationCenter"><rect x="1135.5" y="1158.5" width="69" height="21" rx="6"/><text x="1170" y="1169">UNUserNotificationCenter</text></g>
<g id="UNUserNotificationCenterDelegate"><rect x="1216" y="1158.5" width="86" height="21" rx="6"/><text x="1259" y="1169">UNUserNotificationCenterDelegate</text></g>
<g id="UNAuthorizationOptions"><rect x="1314" y="1158.5" width="64" height="21" rx="6"/><text x="1346" y="1169">UNAuthorizationOptions</text></g>
<g id="UNAuthorizationStatus"><rect x="1390" y="1158.5" width="62" height="21" rx="6"/><text x="1421" y="1169">UNAuthorizationStatus</text></g>
<g id="DemographicDTO"><rect x="1638.5" y="1158.5" width="47" height="21" rx="6"/><text x="1662" y="1169">DemographicDTO</text></g>
<g id="AppDelegateBase_p"><rect x="400" y="1199.5" width="58" height="21" rx="6"/><text x="429" y="1210">&lt; AppDelegateBase &gt;</text></g>
<g id="MedicalHistoryDTO"><rect x="491.5" y="1199.5" width="53" height="21" rx="6"/><text x="518" y="1210">MedicalHistoryDTO</text></g>
<g id="ReceiptDTO"><rect x="577" y="1199.5" width="38" height="21" rx="6"/><text x="596" y="1210">ReceiptDTO</text></g>
<g id="PrivacyNoticeDecisionRequest_p"><rect x="714" y="1199.5" width="86" height="21" rx="6"/><text x="757" y="1210">&lt; PrivacyNoticeDecisionRequest &gt;</text></g>
<g id="PrivacyBusinessControllerProtocol"><rect x="940.5" y="1199.5" width="89" height="21" rx="6"/><text x="985" y="1210">PrivacyBusinessControllerProtocol</text></g>
<g id="DemographicsDTO_p"><rect x="1583" y="1199.5" width="58" height="21" rx="6"/><text x="1612" y="1210">&lt; DemographicsDTO &gt;</text></g>
<g id="DateOfBirthErrorResponse"><rect x="2048.5" y="1199.5" width="69" height="21" rx="6"/><text x="2083" y="1210">DateOfBirthErrorResponse</text></g>
<g id="APIErrorResponse"><rect x="2306.5" y="1199.5" width="51" height="21" rx="6"/><text x="2332" y="1210">APIErrorResponse</text></g>
<g id="SignInModels_p"><rect x="2411.5" y="1199.5" width="51" height="21" rx="6"/><text x="2437" y="1210">&lt; SignInModels &gt;</text></g>
<g id="GPDetailsDTO"><rect x="2670" y="1199.5" width="42" height="21" rx="6"/><text x="2691" y="1210">GPDetailsDTO</text></g>
<g id="FlattenStrategy"><rect x="15.5" y="1241.5" width="49" height="21" rx="6"/><text x="40" y="1252">FlattenStrategy</text></g>
<g id="MutableProperty"><rect x="71.5" y="1241.5" width="49" height="21" rx="6"/><text x="96" y="1252">MutableProperty</text></g>
<g id="OptionalProtocol"><rect x="127.5" y="1241.5" width="51" height="21" rx="6"/><text x="153" y="1252">OptionalProtocol</text></g>
<g id="Signal"><rect x="385.5" y="1241.5" width="29" height="21" rx="6"/><text x="400" y="1252">Signal</text></g>
<g id="PrivacyNoticeVersionsRequest"><rect x="601" y="1241.5" width="78" height="21" rx="6"/><text x="640" y="1252">PrivacyNoticeVersionsRequest</text></g>
<g id="PrivacyNoticeVersionDTO"><rect x="889.5" y="1241.5" width="67" height="21" rx="6"/><text x="923" y="1252">PrivacyNoticeVersionDTO</text></g>
<g id="NetError"><rect x="1163" y="1241.5" width="34" height="21" rx="6"/><text x="1180" y="1252">NetError</text></g>
<g id="NotEmptyDecodable"><rect x="2238.5" y="1241.5" width="53" height="21" rx="6"/><text x="2265" y="1252">NotEmptyDecodable</text></g>
<g id="UserDefaults"><rect x="2368" y="1241.5" width="42" height="21" rx="6"/><text x="2389" y="1252">UserDefaults</text></g>
<g id="Parser"><rect x="2420.5" y="1241.5" width="29" height="21" rx="6"/><text x="2435" y="1252">Parser</text></g>
<g id="EmptyCodable"><rect x="2702" y="1241.5" width="42" height="21" rx="6"/><text x="2723" y="1252">EmptyCodable</text></g>
<g id="PrivacyNoticeVersionDTO_p"><rect x="466.5" y="1282.5" width="75" height="21" rx="6"/><text x="504" y="1293">&lt; PrivacyNoticeVersionDTO &gt;</text></g>
<g id="Rating"><rect x="708.5" y="1282.5" width="29" height="21" rx="6"/><text x="723" y="1293">Rating</text></g>
<g id="RedemptionError"><rect x="1076.5" y="1282.5" width="49" height="21" rx="6"/><text x="1101" y="1293">RedemptionError</text></g>
<g id="PatientUpdateErrorResponse"><rect x="1137.5" y="1282.5" width="73" height="21" rx="6"/><text x="1174" y="1293">PatientUpdateErrorResponse</text></g>
<g id="FormURLEncodable"><rect x="1816.5" y="1282.5" width="51" height="21" rx="6"/><text x="1842" y="1293">FormURLEncodable</text></g>
<g id="FacebookSignInRequest"><rect x="2100" y="1282.5" width="62" height="21" rx="6"/><text x="2131" y="1293">FacebookSignInRequest</text></g>
<g id="JWTSignInRequest"><rect x="2477.5" y="1282.5" width="51" height="21" rx="6"/><text x="2503" y="1293">JWTSignInRequest</text></g>
<g id="Parser_p"><rect x="2683" y="1282.5" width="38" height="21" rx="6"/><text x="2702" y="1293">&lt; Parser &gt;</text></g>
<g id="Codable"><rect x="793.5" y="1323.5" width="31" height="21" rx="6"/><text x="809" y="1334">Codable</text></g>
<g id="LocalizationCore"><rect x="1037.5" y="1323.5" width="51" height="21" rx="6"/><text x="1063" y="1334">LocalizationCore</text></g>
<g id="CodingKey"><rect x="1518" y="1323.5" width="36" height="21" rx="6"/><text x="1536" y="1334">CodingKey</text></g>
<g id="JSONDecoder"><rect x="1988" y="1323.5" width="40" height="21" rx="6"/><text x="2008" y="1334">JSONDecoder</text></g>
<g id="CustomStringConvertible"><rect x="2108.5" y="1323.5" width="67" height="21" rx="6"/><text x="2142" y="1334">CustomStringConvertible</text></g>
<g id="Collection"><rect x="2205" y="1323.5" width="38" height="21" rx="6"/><text x="2224" y="1334">Collection</text></g>
<g id="JSONEncoder"><rect x="2318" y="1323.5" width="40" height="21" rx="6"/><text x="2338" y="1334">JSONEncoder</text></g>
<g id="ExpressibleByNilLiteral"><rect x="2454.5" y="1323.5" width="67" height="21" rx="6"/><text x="2488" y="1334">ExpressibleByNilLiteral</text></g>
<g id="KeyedDecodingContainer"><rect x="2531" y="1323.5" width="64" height="21" rx="6"/><text x="2563" y="1334">KeyedDecodingContainer</text></g>
<g id="KeyedEncodingContainer"><rect x="2609" y="1323.5" width="64" height="21" rx="6"/><text x="2641" y="1334">KeyedEncodingContainer</text></g>
<g id="Scanner"><rect x="2686.5" y="1323.5" width="31" height="21" rx="6"/><text x="2702" y="1334">Scanner</text></g>
<g id="UnkeyedDecodingContainer"><rect x="2728.5" y="1323.5" width="69" height="21" rx="6"/><text x="2763" y="1334">UnkeyedDecodingContainer</text></g>
<g id="AnyError"><rect x="2809" y="1323.5" width="34" height="21" rx="6"/><text x="2826" y="1334">AnyError</text></g>
<g id="EncodingError"><rect x="2847.5" y="1323.5" width="45" height="21" rx="6"/><text x="2870" y="1334">EncodingError</text></g>
<g id="ISO8601Date"><rect x="2949" y="1323.5" width="40" height="21" rx="6"/><text x="2969" y="1334">ISO8601Date</text></g>
<g id="ForgotPasswordResponse"><rect x="2089" y="1365.5" width="64" height="21" rx="6"/><text x="2121" y="1376">ForgotPasswordResponse</text></g>
<g id="Decoder"><rect x="324.5" y="1406.5" width="31" height="21" rx="6"/><text x="340" y="1417">Decoder</text></g>
<g id="Decodable"><rect x="1934" y="1406.5" width="36" height="21" rx="6"/><text x="1952" y="1417">Decodable</text></g>
<g id="LogStrategy"><rect x="3418" y="1572.5" width="40" height="21" rx="6"/><text x="3438" y="1583">LogStrategy</text></g>
<g id="LoggerProtocol"><rect x="3496.5" y="1572.5" width="47" height="21" rx="6"/><text x="3520" y="1583">LoggerProtocol</text></g>
<g id="LogLevel"><rect x="3593" y="1572.5" width="34" height="21" rx="6"/><text x="3610" y="1583">LogLevel</text></g>
<g id="Logger_p"><rect x="3483" y="1614.5" width="40" height="21" rx="6"/><text x="3503" y="1625">&lt; Logger &gt;</text></g>
</g>
</svg>
